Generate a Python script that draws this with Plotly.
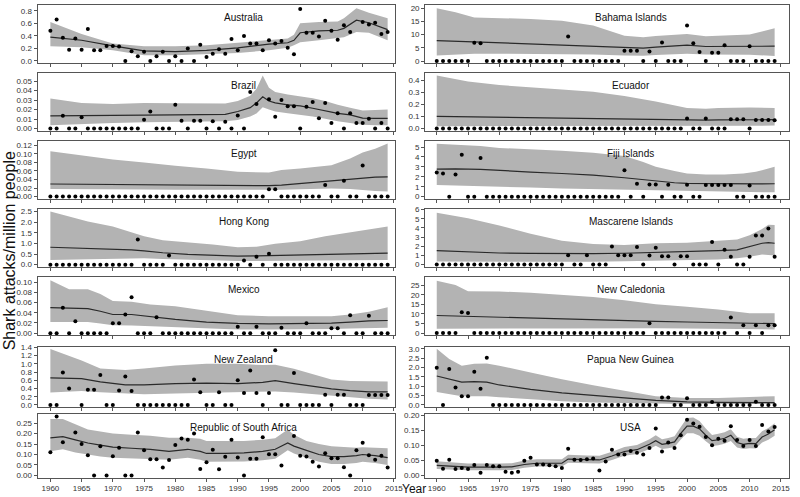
import plotly.graph_objects as go

YEARS = list(range(1960, 2015))
XTICKS = [1960, 1965, 1970, 1975, 1980, 1985, 1990, 1995, 2000, 2005, 2010, 2015]

# ---------------- Australia ----------------
aus_pts = [0.48, 0.66, 0.37, 0.18, 0.36, 0.18, 0.51, 0.17, 0.17, 0.24, 0.24, 0.23, 0.0, 0.155, 0.075,
           0.145, 0.0, 0.075, 0.145, 0.0, 0.075, 0.0, 0.2, 0.0, 0.26, 0.064, 0.117, 0.187, 0.117, 0.35,
           0.17, 0.4, 0.28, 0.28, 0.17, 0.33, 0.28, 0.32, 0.21, 0.107, 0.83, 0.45, 0.45, 0.39, 0.64,
           0.48, 0.34, 0.57, 0.46, None, 0.62, 0.58, 0.61, 0.43, 0.46]
aus_cy = [1960, 1965, 1970, 1975, 1980, 1985, 1990, 1995, 1998, 1999, 2000, 2003, 2006, 2007, 2009, 2011, 2014]
aus_mid = [0.38, 0.33, 0.24, 0.16, 0.15, 0.17, 0.21, 0.27, 0.29, 0.33, 0.45, 0.48, 0.49, 0.52, 0.65, 0.61, 0.50]
aus_hi = [0.62, 0.43, 0.28, 0.235, 0.235, 0.25, 0.29, 0.33, 0.36, 0.42, 0.60, 0.62, 0.63, 0.68, 0.84, 0.77, 0.68]
aus_lo = [0.235, 0.22, 0.17, 0.09, 0.09, 0.107, 0.128, 0.17, 0.21, 0.25, 0.30, 0.33, 0.36, 0.38, 0.46, 0.45, 0.33]

# ---------------- Bahama Islands ----------------
bah_pts = [0, 0, 0, 0, 0, 0, 6.9, 6.75] + [0] * 13 + [9.25] + [0] * 8 + \
          [3.9, 3.9, 3.9, 0, 3.6, 0, 7.0, 0, 0, 0, 13.4, 6.75, 3.4, 0, 3.1, 3.1, 6.0, 0, 0, 0, 5.6, 0, 0, 0, 0]
bah_cy = [1960, 1963, 1966, 1970, 1975, 1980, 1985, 1990, 1993, 1995, 2000, 2003, 2007, 2010, 2014]
bah_mid = [7.75, 7.5, 7.2, 6.9, 6.6, 6.25, 5.8, 5.25, 4.9, 5.25, 6.0, 5.5, 5.5, 5.6, 5.6]
bah_hi = [20, 18.4, 16.5, 16.25, 15.9, 15.25, 13.4, 9.6, 9.0, 9.5, 10.25, 9.4, 9.6, 10.0, 12.4]
bah_lo = [2.1, 2.4, 2.75, 2.75, 2.75, 2.6, 2.5, 2.1, 2.0, 2.3, 2.75, 2.5, 2.5, 2.4, 1.9]

# ---------------- Brazil ----------------
bra_pts = [0, 0, 0.0134, 0, 0, 0.012, 0, 0, 0, 0, 0, 0, 0, 0, 0, 0.0093, 0.018, 0, 0, 0, 0.025, 0.0083,
           0, 0.0083, 0.0083, 0, 0.0076, 0, 0.0072, 0, 0.0138, 0, 0.0386, 0.026, None, 0.031, 0.0124,
           0.030, 0.0234, 0.0234, 0, 0.023, 0.028, 0.011, 0.027, 0.0059, 0.0162, 0, 0.0162, 0.0059,
           0.0059, 0.0103, 0, 0.0059, 0]
bra_cy = [1960, 1965, 1970, 1975, 1980, 1985, 1988, 1990, 1992, 1993, 1994, 1995, 1996, 1998, 2000, 2002,
          2004, 2006, 2008, 2010, 2012, 2014]
bra_mid = [0.0134, 0.0134, 0.0138, 0.0141, 0.0145, 0.0145, 0.015, 0.018, 0.022, 0.027, 0.0334, 0.029, 0.027,
           0.025, 0.024, 0.0214, 0.0186, 0.016, 0.0145, 0.011, 0.0107, 0.0107]
bra_hi = [0.0317, 0.027, 0.026, 0.027, 0.0267, 0.0265, 0.0265, 0.029, 0.0345, 0.042, 0.056, 0.043, 0.0386,
          0.036, 0.034, 0.032, 0.029, 0.025, 0.022, 0.019, 0.0197, 0.020]
bra_lo = [0.0034, 0.0048, 0.006, 0.0066, 0.0069, 0.0069, 0.0076, 0.009, 0.0128, 0.016, 0.0224, 0.020, 0.018,
          0.0162, 0.0145, 0.0128, 0.0103, 0.0076, 0.0059, 0.0041, 0.0034, 0.0034]

# ---------------- Ecuador ----------------
ecu_pts = [0] * 40 + [0.082, 0, 0, 0.082, 0, 0, 0, 0.076, 0.076, 0.076, 0, 0.071, 0.071, 0.071, 0.068]
ecu_cy = [1960, 1965, 1970, 1975, 1980, 1985, 1990, 1995, 2000, 2003, 2005, 2010, 2014]
ecu_mid = [0.10, 0.096, 0.093, 0.088, 0.084, 0.080, 0.076, 0.072, 0.068, 0.069, 0.071, 0.072, 0.073]
ecu_hi = [0.44, 0.39, 0.36, 0.345, 0.324, 0.305, 0.27, 0.223, 0.169, 0.163, 0.169, 0.174, 0.169]
ecu_lo = [0.019, 0.019, 0.019, 0.019, 0.019, 0.019, 0.019, 0.02, 0.022, 0.023, 0.024, 0.024, 0.024]

# ---------------- Egypt ----------------
egy_pts = [0] * 35 + [0.017, 0.017] + [0] * 7 + [0.027, 0, 0, 0.037, 0, 0, 0.073, 0, 0, 0, 0]
egy_cy = [1960, 1963, 1966, 1970, 1975, 1980, 1985, 1990, 1995, 1997, 2000, 2005, 2008, 2010, 2012, 2014]
egy_mid = [0.0294, 0.029, 0.0285, 0.028, 0.027, 0.026, 0.0258, 0.0255, 0.0255, 0.027, 0.031, 0.036, 0.040,
           0.044, 0.0455, 0.046]
egy_hi = [0.106, 0.10, 0.095, 0.087, 0.08, 0.072, 0.066, 0.058, 0.0565, 0.062, 0.066, 0.0735, 0.089, 0.103,
          0.112, 0.124]
egy_lo = [0.018, 0.018, 0.0175, 0.017, 0.0165, 0.016, 0.0158, 0.0155, 0.0155, 0.016, 0.017, 0.019, 0.018,
          0.0147, 0.013, 0.0116]

# ---------------- Fiji Islands ----------------
fij_pts = [2.43, 2.33, 0, 2.23, 4.23, 0, 0, 3.9] + [0] * 22 + \
          [2.67, 0, 1.3, 0, 1.23, 1.23, 0, 1.2, 0, 0, 1.2, 0, 0, 1.17, 1.17, 1.17, 1.17, 1.17, 0, 0, 1.13,
           0, 0, 0, 0]
fij_cy = [1960, 1963, 1967, 1970, 1975, 1980, 1985, 1990, 1993, 1995, 1998, 2000, 2003, 2006, 2009, 2011, 2014]
fij_mid = [2.77, 2.8, 2.75, 2.63, 2.47, 2.33, 2.17, 1.9, 1.7, 1.57, 1.4, 1.33, 1.3, 1.27, 1.27, 1.28, 1.3]
fij_hi = [5.33, 5.23, 5.1, 4.9, 4.77, 4.63, 4.43, 4.1, 3.5, 3.0, 2.57, 2.33, 2.23, 2.23, 2.33, 2.5, 3.0]
fij_lo = [1.17, 1.13, 1.08, 1.0, 0.92, 0.83, 0.78, 0.73, 0.7, 0.67, 0.6, 0.57, 0.57, 0.57, 0.52, 0.5, 0.43]

# ---------------- Hong Kong ----------------
hkg_pts = [0] * 14 + [1.18, 0, 0, 0, 0, 0.43] + [0] * 11 + [0.2, 0, 0.37, 0, 0.51] + [0] * 19
hkg_cy = [1960, 1963, 1966, 1970, 1973, 1975, 1978, 1982, 1986, 1990, 1993, 1996, 2000, 2004, 2008, 2011, 2014]
hkg_mid = [0.82, 0.8, 0.77, 0.73, 0.70, 0.65, 0.56, 0.48, 0.44, 0.40, 0.41, 0.43, 0.45, 0.47, 0.50, 0.52, 0.54]
hkg_hi = [2.5, 2.27, 2.03, 1.8, 1.52, 1.34, 1.15, 1.06, 0.95, 0.82, 0.84, 0.99, 1.1, 1.34, 1.52, 1.68, 1.8]
hkg_lo = [0.22, 0.24, 0.26, 0.28, 0.32, 0.30, 0.26, 0.22, 0.19, 0.17, 0.17, 0.18, 0.19, 0.2, 0.2, 0.21, 0.22]

# ---------------- Mascarene Islands ----------------
mas_pts = [0] * 21 + [1.02, 0, 0, 1.02, 0, 0, 0, 1.96, 1.02, 1.02, 1.02, 1.9, 0, 0.98, 1.82, 0.91, 0.91, 0,
                      0.91, 0.91, 0, 0, 0, 2.46, 0, 1.61, 0.84, 0, 0, 0.84, 3.16, 3.16, 3.93, 0.84]
mas_cy = [1960, 1965, 1970, 1975, 1980, 1985, 1990, 1995, 2000, 2005, 2008, 2010, 2012, 2013, 2014]
mas_mid = [1.51, 1.37, 1.26, 1.22, 1.19, 1.19, 1.23, 1.3, 1.37, 1.51, 1.61, 1.96, 2.32, 2.39, 2.32]
mas_hi = [5.65, 5.05, 4.25, 3.37, 2.6, 2.25, 2.14, 2.32, 2.39, 2.6, 2.74, 3.19, 3.89, 4.35, 4.32]
mas_lo = [0.32, 0.3, 0.28, 0.28, 0.28, 0.3, 0.35, 0.4, 0.46, 0.56, 0.7, 0.84, 1.09, 1.05, 0.98]

# ---------------- Mexico ----------------
mex_pts = [0, 0, 0.05, 0, 0.0235, 0, 0, 0, 0, 0, 0.0196, 0.0196, 0.0366, 0.0706, 0, 0, 0, 0.031] + [0] * 12 + \
          [0.0124, 0, 0, 0.0124, 0, 0, 0, 0.0105, 0, 0, 0, 0.0196, 0, 0, 0, 0.0098, 0.0098, 0, 0.0353, 0, 0,
           0.034, 0, 0, 0]
mex_cy = [1960, 1963, 1966, 1968, 1970, 1973, 1976, 1980, 1985, 1990, 1995, 2000, 2005, 2008, 2011, 2014]
mex_mid = [0.05, 0.049, 0.048, 0.043, 0.0366, 0.0366, 0.032, 0.027, 0.0216, 0.019, 0.0183, 0.019, 0.0196,
           0.0216, 0.024, 0.0248]
mex_hi = [0.104, 0.086, 0.086, 0.077, 0.063, 0.0614, 0.056, 0.053, 0.044, 0.035, 0.0333, 0.0333, 0.0333,
          0.0366, 0.042, 0.051]
mex_lo = [0.022, 0.022, 0.022, 0.019, 0.0157, 0.015, 0.0137, 0.0105, 0.009, 0.0072, 0.0072, 0.0072, 0.008,
          0.0092, 0.0098, 0.0105]

# ---------------- New Caledonia ----------------
ncl_pts = [0, 0, 0, 0, 10.9, 10.5] + [0] * 28 + [5.1] + [0] * 12 + [8.2, 0, 4.1, 0, 4.1, 0, 4.1, 4.1]
ncl_cy = [1960, 1963, 1965, 1970, 1975, 1980, 1985, 1990, 1995, 2000, 2005, 2010, 2014]
ncl_mid = [9.2, 8.9, 8.7, 8.3, 7.8, 7.3, 6.9, 6.5, 6.1, 5.8, 5.5, 5.1, 4.9]
ncl_hi = [27.4, 25.2, 21.9, 21.8, 21.1, 20.0, 18.9, 17.2, 15.1, 13.8, 12.4, 10.4, 10.4]
ncl_lo = [2.2, 2.3, 2.4, 2.4, 2.4, 2.4, 2.5, 2.55, 2.5, 2.4, 2.2, 2.0, 1.9]

# ---------------- New Zealand ----------------
nzl_pts = [0, 0, 0.79, 0.40, None, 0, 0.37, 0.37, 0.73, 0, 0, 0.35, 0.69, 0.34] + [0] * 9 + \
          [0.62, 0.31, 0, 0, 0.31, 0, 0, 0.6, 0.29, 0.84, 0.29, 0, 0.29, 1.33, 0, 0, 0.78, 0, 0, 0, 0,
           0.25, 0, 0.25, 0.25, 0, 0, 0, 0.24, 0.24, 0.24, 0.24]
nzl_cy = [1960, 1963, 1965, 1968, 1972, 1975, 1980, 1985, 1990, 1994, 1996, 1999, 2002, 2005, 2008, 2011, 2014]
nzl_mid = [0.66, 0.65, 0.64, 0.56, 0.49, 0.49, 0.52, 0.53, 0.52, 0.55, 0.59, 0.52, 0.45, 0.39, 0.35, 0.32, 0.32]
nzl_hi = [1.36, 1.19, 1.08, 0.89, 0.85, 0.89, 0.96, 1.0, 1.0, 0.97, 0.98, 0.88, 0.75, 0.62, 0.58, 0.57, 0.57]
nzl_lo = [0.30, 0.33, 0.34, 0.31, 0.28, 0.26, 0.28, 0.29, 0.3, 0.32, 0.33, 0.3, 0.26, 0.22, 0.18, 0.15, 0.135]

# ---------------- Papua New Guinea ----------------
png_pts = [1.99, 0, 1.92, 0.94, 0.47, 0.47, 1.77, 0.87, 2.53] + [0] * 27 + \
          [0.4, 0.4, 0, 0, 0.36, 0, 0, 0, 0.16, 0, 0, 0, 0, 0, 0, 0.18, 0, 0, 0]
png_cy = [1960, 1962, 1964, 1966, 1968, 1970, 1975, 1980, 1985, 1990, 1995, 2000, 2005, 2010, 2014]
png_mid = [1.55, 1.37, 1.22, 1.25, 1.22, 1.07, 0.83, 0.65, 0.5, 0.38, 0.25, 0.17, 0.14, 0.13, 0.13]
png_hi = [3.0, 2.46, 2.1, 2.2, 2.22, 2.1, 1.74, 1.37, 1.05, 0.74, 0.47, 0.38, 0.38, 0.43, 0.47]
png_lo = [0.69, 0.56, 0.47, 0.47, 0.47, 0.42, 0.29, 0.2, 0.14, 0.11, 0.07, 0.05, 0.05, 0.05, 0.05]

# ---------------- Republic of South Africa ----------------
rsa_pts = [0.111, 0.282, 0.159, None, 0.205, 0.15, 0.097, 0, 0.14, 0, 0.092, 0.132, 0, 0, 0.205, 0.12, 0.077,
           0.077, 0.038, 0.074, 0.145, 0.176, 0.171, 0.2, 0.031, 0.063, 0.123, 0.029, 0.089, 0.171, 0.086, 0,
           0.08, 0.08, 0.183, 0.101, 0.101, 0.048, None, 0.188, 0.094, 0.091, 0.065, 0.043, 0.106, 0.082,
           0.082, 0.039, 0, 0.12, 0.156, 0.097, 0.075, 0.094, 0.038]
rsa_cy = [1960, 1962, 1964, 1966, 1968, 1970, 1973, 1976, 1979, 1982, 1984, 1985, 1988, 1991, 1994, 1996, 1998,
          1999, 2001, 2003, 2005, 2007, 2009, 2010, 2012, 2014]
rsa_mid = [0.18, 0.185, 0.17, 0.155, 0.145, 0.135, 0.13, 0.125, 0.115, 0.125, 0.115, 0.105, 0.105, 0.108,
           0.115, 0.125, 0.155, 0.14, 0.12, 0.10, 0.09, 0.09, 0.095, 0.10, 0.095, 0.085]
rsa_hi = [0.27, 0.27, 0.245, 0.22, 0.21, 0.2, 0.195, 0.19, 0.18, 0.18, 0.175, 0.165, 0.165, 0.165, 0.17, 0.178,
          0.22, 0.195, 0.165, 0.15, 0.14, 0.135, 0.132, 0.135, 0.133, 0.13]
rsa_lo = [0.115, 0.125, 0.11, 0.1, 0.09, 0.085, 0.082, 0.08, 0.075, 0.085, 0.075, 0.065, 0.065, 0.066, 0.072,
          0.08, 0.12, 0.105, 0.085, 0.065, 0.055, 0.055, 0.06, 0.065, 0.06, 0.05]

# ---------------- USA ----------------
usa_pts = [0.048, 0.022, 0.052, 0.021, 0.024, 0.021, 0.034, 0.0085, 0.034, 0.03, 0.03, 0.012, 0.0085, 0.012,
           0.048, 0.058, 0.036, 0.036, 0.033, 0.03, 0.024, 0.088, 0.052, 0.051, 0.053, 0.056, 0.016, 0.046,
           0.085, 0.069, 0.069, 0.081, 0.075, 0.069, 0.091, 0.155, 0.079, 0.109, 0.091, 0.133, 0.184, 0.172,
           0.161, 0.127, 0.100, 0.121, 0.115, 0.163, 0.117, 0.097, 0.117, 0.097, 0.167, 0.145, 0.160]
usa_cy = [1960, 1962, 1965, 1970, 1972, 1974, 1976, 1980, 1981, 1984, 1986, 1988, 1990, 1992, 1994, 1995, 1996,
          1997, 1998, 1999, 2000, 2001, 2002, 2003, 2004, 2005, 2006, 2007, 2008, 2009, 2010, 2011, 2012, 2013,
          2014]
usa_mid = [0.033, 0.03, 0.027, 0.027, 0.028, 0.036, 0.04, 0.04, 0.054, 0.052, 0.051, 0.064, 0.079, 0.085, 0.103,
           0.115, 0.103, 0.106, 0.111, 0.139, 0.163, 0.163, 0.154, 0.133, 0.115, 0.118, 0.123, 0.133, 0.109,
           0.103, 0.106, 0.105, 0.127, 0.137, 0.151]
usa_hi = [0.047, 0.043, 0.039, 0.039, 0.040, 0.049, 0.053, 0.053, 0.068, 0.066, 0.065, 0.078, 0.094, 0.101,
          0.120, 0.133, 0.120, 0.124, 0.130, 0.160, 0.190, 0.192, 0.180, 0.155, 0.134, 0.138, 0.143, 0.153,
          0.128, 0.121, 0.124, 0.124, 0.146, 0.157, 0.173]
usa_lo = [0.021, 0.019, 0.017, 0.017, 0.018, 0.025, 0.029, 0.029, 0.042, 0.040, 0.039, 0.051, 0.065, 0.071,
          0.087, 0.098, 0.087, 0.090, 0.094, 0.119, 0.140, 0.140, 0.131, 0.113, 0.097, 0.100, 0.105, 0.114,
          0.092, 0.087, 0.090, 0.089, 0.109, 0.118, 0.131]

# name, points, curve-years, lo, mid, hi, y-range, dtick, format
panels = [
    ("Australia", aus_pts, aus_cy, aus_lo, aus_mid, aus_hi, [-0.035, 0.885], 0.2, ".1f"),
    ("Bahama Islands", bah_pts, bah_cy, bah_lo, bah_mid, bah_hi, [-0.8, 21.0], 5, "d"),
    ("Brazil", bra_pts, bra_cy, bra_lo, bra_mid, bra_hi, [-0.0022, 0.0585], 0.01, ".2f"),
    ("Ecuador", ecu_pts, ecu_cy, ecu_lo, ecu_mid, ecu_hi, [-0.018, 0.46], 0.1, ".1f"),
    ("Egypt", egy_pts, egy_cy, egy_lo, egy_mid, egy_hi, [-0.005, 0.130], 0.02, ".2f"),
    ("Fiji Islands", fij_pts, fij_cy, fij_lo, fij_mid, fij_hi, [-0.21, 5.6], 1, "d"),
    ("Hong Kong", hkg_pts, hkg_cy, hkg_lo, hkg_mid, hkg_hi, [-0.1, 2.62], 0.5, ".1f"),
    ("Mascarene Islands", mas_pts, mas_cy, mas_lo, mas_mid, mas_hi, [-0.24, 6.05], 1, "d"),
    ("Mexico", mex_pts, mex_cy, mex_lo, mex_mid, mex_hi, [-0.0042, 0.110], 0.02, ".2f"),
    ("New Caledonia", ncl_pts, ncl_cy, ncl_lo, ncl_mid, ncl_hi, [-1.15, 29.3], 5, "d"),
    ("New Zealand", nzl_pts, nzl_cy, nzl_lo, nzl_mid, nzl_hi, [-0.056, 1.42], 0.2, ".1f"),
    ("Papua New Guinea", png_pts, png_cy, png_lo, png_mid, png_hi, [-0.12, 3.12], 0.5, ".1f"),
    ("Republic of South Africa", rsa_pts, rsa_cy, rsa_lo, rsa_mid, rsa_hi, [-0.011, 0.293], 0.05, ".2f"),
    ("USA", usa_pts, usa_cy, usa_lo, usa_mid, usa_hi, [-0.008, 0.203], 0.05, ".2f"),
]

W, H = 800, 497
LEFT_DOM = [38 / W, 399 / W]
RIGHT_DOM = [430 / W, 798 / W]
LEFT_XR = [1957.95, 2015.1]
RIGHT_XR = [1958.15, 2016.3]
# pixel top/bottom of each panel row
ROW_PX = [(1.5, 60.0), (70.0, 128.5), (139.0, 197.5), (208.0, 266.5), (277.0, 336.0),
          (347.5, 409.0), (416.0, 480.5)]
BAND = "#b3b3b3"
AXC = "#555555"
FONT = "Liberation Sans, Arial, sans-serif"
TICKFONT = dict(family=FONT, size=8, color="#333333")

fig = go.Figure()
layout = {}
annotations = []

for i, (name, pts, cy, lo, mid, hi, yr, dt, fmt) in enumerate(panels):
    n = i + 1
    row, col = i // 2, i % 2
    xa = "x" if n == 1 else f"x{n}"
    ya = "y" if n == 1 else f"y{n}"
    top, bot = ROW_PX[row]
    ydom = [1 - bot / H, 1 - top / H]

    fig.add_trace(go.Scatter(x=cy, y=lo, mode="lines", line=dict(width=0, color=BAND),
                             xaxis=xa, yaxis=ya, showlegend=False, hoverinfo="skip"))
    fig.add_trace(go.Scatter(x=cy, y=hi, mode="lines", line=dict(width=0, color=BAND),
                             fill="tonexty", fillcolor=BAND, xaxis=xa, yaxis=ya,
                             showlegend=False, hoverinfo="skip"))
    fig.add_trace(go.Scatter(x=cy, y=mid, mode="lines", line=dict(width=1.2, color="#2a2a2a"),
                             xaxis=xa, yaxis=ya, showlegend=False))
    fig.add_trace(go.Scatter(x=YEARS, y=pts, mode="markers",
                             marker=dict(size=4, color="black"),
                             xaxis=xa, yaxis=ya, showlegend=False, cliponaxis=False))

    xkey = "xaxis" if n == 1 else f"xaxis{n}"
    ykey = "yaxis" if n == 1 else f"yaxis{n}"
    layout[xkey] = dict(domain=LEFT_DOM if col == 0 else RIGHT_DOM,
                        range=LEFT_XR if col == 0 else RIGHT_XR,
                        anchor=ya, tickvals=XTICKS, ticks="outside", ticklen=3, tickwidth=1,
                        tickcolor=AXC, showticklabels=(row == 6), tickfont=TICKFONT,
                        showline=True, mirror=True, linecolor=AXC, linewidth=1,
                        showgrid=False, zeroline=False, fixedrange=True)
    layout[ykey] = dict(domain=ydom, range=yr, anchor=xa, tick0=0, dtick=dt, tickformat=fmt,
                        ticks="outside", ticklen=3, tickwidth=1, tickcolor=AXC, tickfont=TICKFONT,
                        showline=True, mirror=True, linecolor=AXC, linewidth=1,
                        showgrid=False, zeroline=False, fixedrange=True)
    annotations.append(dict(x=1991, xref=xa, y=0.79, yref=f"{ya} domain", text=name,
                            showarrow=False, xanchor="center", yanchor="middle",
                            font=dict(family=FONT, size=10, color="#111111")))

annotations.append(dict(x=419 / W, y=1 - 492 / H, xref="paper", yref="paper", text="Year",
                        showarrow=False, xanchor="center", yanchor="middle",
                        font=dict(family=FONT, size=12, color="#111111")))
annotations.append(dict(x=10 / W, y=1 - 250 / H, xref="paper", yref="paper",
                        text="Shark attacks/million people", textangle=-90,
                        showarrow=False, xanchor="center", yanchor="middle",
                        font=dict(family=FONT, size=16, color="#111111")))

fig.update_layout(**layout)
fig.update_layout(width=W, height=H, margin=dict(l=0, r=0, t=0, b=0),
                  paper_bgcolor="white", plot_bgcolor="white",
                  annotations=annotations, showlegend=False,
                  font=dict(family=FONT))

fig.write_html("out.html")
